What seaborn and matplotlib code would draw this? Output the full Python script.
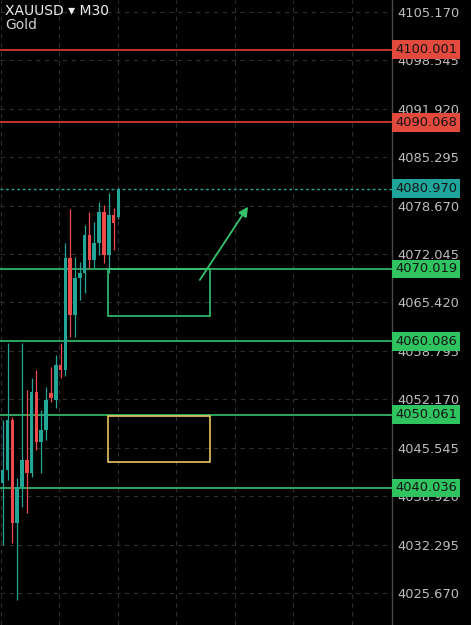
import matplotlib
matplotlib.use("Agg")
import matplotlib.pyplot as plt
import matplotlib.transforms as mtransforms
from matplotlib.patches import Rectangle
import numpy as np
import pandas as pd
import seaborn as sb

# XAUUSD M30 candles
opens = [4040.72, 4042.50, 4049.34, 4035.25, 4040.17, 4043.87, 4042.09, 4053.17,
         4046.33, 4047.97, 4053.00, 4052.08, 4056.87, 4056.18, 4071.51, 4063.71,
         4068.77, 4069.46, 4074.66, 4071.23, 4073.56, 4077.80, 4071.92, 4077.39,
         4077.12]
highs = [4049.34, 4059.88, 4049.75, 4041.40, 4059.88, 4053.45, 4055.09, 4056.18,
         4050.71, 4053.86, 4056.60, 4058.24, 4059.88, 4073.56, 4078.21, 4071.64,
         4070.96, 4076.02, 4077.80, 4076.43, 4079.17, 4078.76, 4080.40, 4078.35,
         4081.10]
lows = [4032.24, 4041.13, 4032.51, 4024.71, 4037.44, 4036.61, 4041.54, 4045.24,
        4042.09, 4046.60, 4051.80, 4050.98, 4055.09, 4055.36, 4060.70, 4060.70,
        4065.76, 4066.72, 4070.14, 4070.14, 4071.92, 4070.82, 4069.46, 4072.60,
        4076.90]
closes = [4042.50, 4049.34, 4035.25, 4040.17, 4043.87, 4042.09, 4053.17, 4046.33,
          4047.97, 4052.08, 4052.40, 4056.87, 4056.18, 4071.51, 4063.71, 4068.77,
          4069.46, 4074.66, 4071.23, 4073.56, 4077.80, 4071.92, 4077.39, 4076.30,
          4080.97]

# price levels drawn on the chart
resistance = [4100.001, 4090.068]
support = [4070.019, 4060.086, 4050.061, 4040.036]
last_price = 4080.970

# boxes: (x0, x1, low, high) in candle units / price
green_box = (21.85, 43.0, 4063.57, 4070.019)
yellow_box = (21.85, 43.0, 4043.64, 4049.95)
# arrow (tail -> head)
arrow_tail = (40.9, 4068.50)
arrow_head = (50.9, 4078.53)

price_ticks = ["4105.170", "4098.545", "4091.920", "4085.295", "4078.670",
               "4072.045", "4065.420", "4058.795", "4052.170", "4045.545",
               "4038.920", "4032.295", "4025.670"]

UP = "#22a698"
DOWN = "#ee4a4a"
RED_LINE = "#dc4238"
GREEN_LINE = "#36c26b"
LABEL_RED = "#e34a3e"
LABEL_GREEN = "#2fc45f"
LABEL_TEAL = "#1fa69c"

sb.set_style("dark", {"axes.facecolor": "black",
                      "figure.facecolor": "black",
                      "axes.edgecolor": "#555555",
                      "grid.color": "#2e2e2e"})
plt.rcParams['font.family'] = ['DejaVu Sans']

df = pd.DataFrame({"open": opens, "high": highs, "low": lows, "close": closes})
df["idx"] = np.arange(len(df))
df["up"] = df["close"] >= df["open"]
df["color"] = np.where(df["up"], UP, DOWN)

fig = plt.figure(figsize=(4.71, 6.25), dpi=100)
ax = fig.add_axes([0, 0, 392 / 471, 1])
ax.set_facecolor("black")

# grid
ticks = [float(t) for t in price_ticks]
ax.set_yticks(ticks)
ax.set_xticks(np.arange(-0.4, 81, 12.135))
ax.grid(True, which="major", color="#2e2e2e", linestyle=(0, (4, 4)), linewidth=0.8)

# candles
ax.vlines(df["idx"], df["low"], df["high"], colors=df["color"], linewidth=0.9, zorder=3)
body = (df["close"] - df["open"]).abs().clip(lower=0.15)
ax.bar(df["idx"], body, bottom=df[["open", "close"]].min(axis=1), width=0.74,
       color=df["color"], linewidth=0, zorder=4)

# levels
for lv in resistance:
    ax.axhline(lv, color=RED_LINE, linewidth=1.2, zorder=2)
for lv in support:
    ax.axhline(lv, color=GREEN_LINE, linewidth=1.2, zorder=2)
ax.axhline(last_price, color=LABEL_TEAL, linewidth=1.0, linestyle=(0, (2, 2)), zorder=2)

# zones
for (x0, x1, lo, hi), col in [(green_box, GREEN_LINE), (yellow_box, "#e8c562")]:
    ax.add_patch(Rectangle((x0, lo), x1 - x0, hi - lo, fill=False,
                           edgecolor=col, linewidth=1.2, zorder=3))

ax.annotate("", xy=arrow_head, xytext=arrow_tail,
            arrowprops=dict(arrowstyle="-|>", color=GREEN_LINE, lw=1.3,
                            mutation_scale=14, shrinkA=0, shrinkB=0),
            zorder=5)

ax.set_xlim(-0.56, 80.77)
ax.set_ylim(4021.29, 4106.81)

# right price axis
ax.yaxis.tick_right()
ax.set_yticklabels(price_ticks)
ax.set_xticklabels([])
ax.tick_params(axis="y", length=0, pad=3.6, labelsize=9.4, labelcolor="#bdbdbd")
ax.tick_params(axis="x", length=0)
for side in ["top", "left", "bottom"]:
    ax.spines[side].set_visible(False)
ax.spines["right"].set_color("#4a4a4a")
ax.spines["right"].set_linewidth(1.0)

trans = mtransforms.blended_transform_factory(ax.transAxes, ax.transData)
labels = [(lv, LABEL_RED) for lv in resistance] + \
         [(lv, LABEL_GREEN) for lv in support] + [(last_price, LABEL_TEAL)]
for lv, col in labels:
    ax.text(1.008, lv, f"{lv:.3f}", transform=trans, ha="left", va="center",
            fontsize=9.4, color="#141414", clip_on=False, zorder=6,
            bbox=dict(boxstyle="square,pad=0.22", facecolor=col, edgecolor="none"))

# symbol header
fig.text(5 / 471, 1 - 11 / 625, "XAUUSD \u25be M30", color="#eeeeee", fontsize=10,
         ha="left", va="center")
fig.text(5 / 471, 1 - 25 / 625, "Gold", color="#d0d0d0", fontsize=10,
         ha="left", va="center")

fig.savefig("out.png", dpi=100, facecolor="black")
